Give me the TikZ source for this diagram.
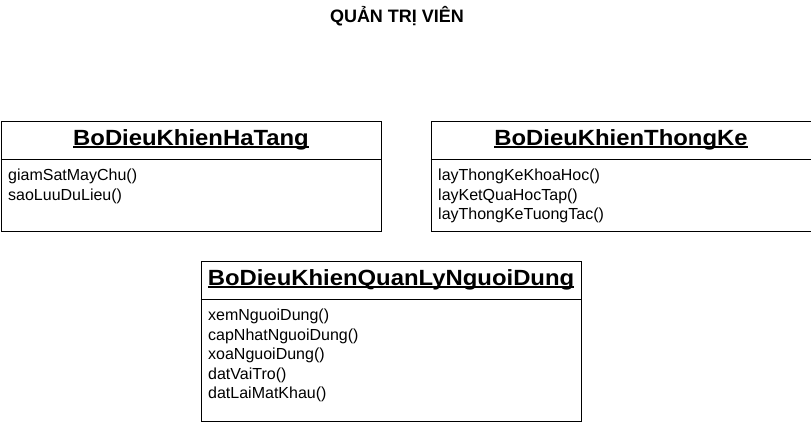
\documentclass[tikz,border=0pt]{standalone}
\usepackage{fontspec}
\setmainfont{Liberation Sans}
\newcommand\ulhead[1]{\setbox0\hbox{\scalebox{1.085}[1]{#1}}\rlap{\rule[-2.8pt]{\wd0}{1.6pt}}\box0}
\begin{document}
\begin{tikzpicture}[x=1pt,y=-1pt,
  box/.style={draw, line width=1pt, anchor=north west, minimum width=380pt, inner sep=0pt},
  head/.style={anchor=base, inner sep=0pt, font=\fontsize{22}{26}\selectfont\bfseries},
  body/.style={anchor=north west, inner sep=0pt, align=left, font=\fontsize{16}{19.5}\selectfont},
  ttl/.style={anchor=base, inner sep=0pt, font=\fontsize{18}{22}\selectfont\bfseries}]
\useasboundingbox (0,0) rectangle (811,421);
\node[ttl] (title) at (397,22) {QUẢN TRỊ VIÊN};
% box 1
\node[box, minimum height=110pt] (b1) at (0.5,120.5) {};
\node[head] (h1) at (b1.north |- 0,145) {\ulhead{BoDieuKhienHaTang}};
\draw[line width=1pt] ([yshift=-39pt]b1.north west) -- ([yshift=-39pt]b1.north east);
\node[body] (m1) at (8,168.8) {giamSatMayChu()\\saoLuuDuLieu()};
% box 2
\node[box, minimum height=110pt] (b2) at (430.5,120.5) {};
\node[head] (h2) at (b2.north |- 0,145) {\ulhead{BoDieuKhienThongKe}};
\draw[line width=1pt] ([yshift=-39pt]b2.north west) -- ([yshift=-39pt]b2.north east);
\node[body] (m2) at (438,168.8) {layThongKeKhoaHoc()\\layKetQuaHocTap()\\layThongKeTuongTac()};
% box 3
\node[box, minimum height=160pt] (b3) at (200.5,260.5) {};
\node[head] (h3) at (b3.north |- 0,285) {\ulhead{BoDieuKhienQuanLyNguoiDung}};
\draw[line width=1pt] ([yshift=-39pt]b3.north west) -- ([yshift=-39pt]b3.north east);
\node[body] (m3) at (208,308.8) {xemNguoiDung()\\capNhatNguoiDung()\\xoaNguoiDung()\\datVaiTro()\\datLaiMatKhau()};
\end{tikzpicture}
\end{document}
